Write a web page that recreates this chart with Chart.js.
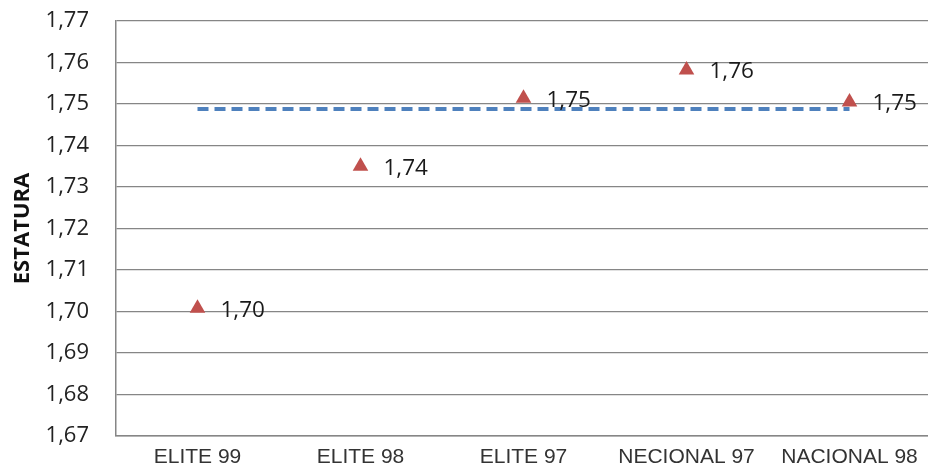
<!DOCTYPE html>
<html>
<head>
<meta charset="utf-8">
<script src="https://cdn.jsdelivr.net/npm/chart.js@4"></script>
<style>
  body { margin: 0; background: #fff; overflow: hidden; }
  #wrap { width: 940px; height: 470px; }
</style>
</head>
<body>
<div id="wrap"><canvas id="canvas"></canvas></div>
<script>
// categories on the X axis
let grupos = ['ELITE 99', 'ELITE 98', 'ELITE 97', 'NECIONAL 97', 'NACIONAL 98'];
// estatura media de cada grupo (Y axis)
let estatura = [1.7008, 1.735, 1.7514, 1.7582, 1.7505];
// reference line (dashed)
let referencia = [1.7488, 1.7488, 1.7488, 1.7488, 1.7488];

let fmt = (v) => v.toFixed(2).replace('.', ',');

// draws the value labels next to each triangle
let etiquetas = {
    id: 'etiquetas',
    afterDatasetsDraw(chart) {
        let ctx = chart.ctx;
        let meta = chart.getDatasetMeta(0);
        ctx.save();
        ctx.font = '22.5px "Open Sans"';
        ctx.fillStyle = '#1a1a1a';
        ctx.textAlign = 'left';
        ctx.textBaseline = 'middle';
        meta.data.forEach((p, i) => {
            ctx.fillText(fmt(estatura[i]), p.x + 23, p.y + 2);
        });
        ctx.restore();
    }
};

new Chart(document.getElementById('canvas'), {
    type: 'line',
    data: {
        labels: grupos,
        datasets: [{
            data: estatura,
            showLine: false,
            pointStyle: 'triangle',
            pointRadius: 9,
            pointHoverRadius: 9,
            backgroundColor: '#C0504D',
            borderColor: '#C0504D',
            borderWidth: 0
        }, {
            data: referencia,
            borderColor: '#4F81BD',
            borderWidth: 4,
            borderDash: [11, 6],
            pointRadius: 0,
            fill: false
        }]
    },
    options: {
        responsive: true,
        maintainAspectRatio: false,
        animation: false,
        layout: { padding: { top: 21, right: 4, left: 0, bottom: 0 } },
        plugins: { legend: { display: false }, tooltip: { enabled: false } },
        scales: {
            x: {
                offset: true,
                grid: { display: false, drawTicks: false },
                border: { display: true, color: '#868686', width: 1.5 },
                ticks: {
                    padding: 9,
                    color: '#333',
                    font: { family: '"Liberation Sans"', size: 21 },
                    maxRotation: 0
                },
                afterFit: (s) => { s.height = 34; }
            },
            y: {
                min: 1.67,
                max: 1.77,
                grid: { color: '#868686', lineWidth: 1.2, drawTicks: true, tickLength: 25, tickColor: 'rgba(0,0,0,0)' },
                border: { display: true, color: '#868686', width: 1.5 },
                ticks: {
                    stepSize: 0.01,
                    padding: 2,
                    color: '#222',
                    font: { family: '"Open Sans"', size: 22 },
                    callback: (v) => fmt(v)
                },
                title: {
                    display: true,
                    text: 'ESTATURA',
                    color: '#111',
                    font: { family: '"Open Sans"', size: 22, weight: 'bold' },
                    padding: { top: 10, bottom: 0 }
                },
                afterFit: (s) => { s.width = 116; }
            }
        }
    },
    plugins: [etiquetas]
});
</script>
</body>
</html>
